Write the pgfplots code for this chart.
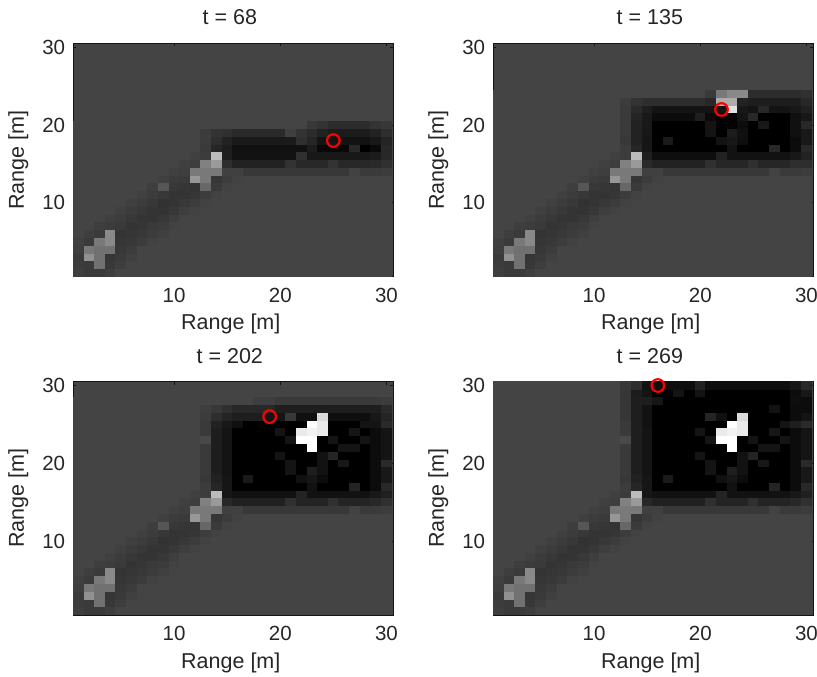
\documentclass[border=0pt]{standalone}
\usepackage{pgfplots}
\usepackage{pgfplotstable}
\usepackage{fontspec}
\setmainfont{Liberation Sans}
\pgfplotsset{compat=1.18}
\pgfdeclareplotmark{cell}{\pgfpathrectangle{\pgfpoint{-5.6pt}{-4.05pt}}{\pgfpoint{11.2pt}{8.1pt}}\pgfusepathqfill}
\definecolor{bgcell}{RGB}{68,68,68}
\definecolor{axln}{RGB}{20,20,20}
\pgfplotstableread[header=false]{
1 62 58 58 62 68 68 68 68 68 68 68 68 68 68 68 68 68 68 68 68 68 68 68 68 68 68 68 68 68 68
2 60 58 112 56 62 68 68 68 68 68 68 68 68 68 68 68 68 68 68 68 68 68 68 68 68 68 68 68 68 68
3 58 144 112 54 58 64 68 68 68 68 68 68 68 68 68 68 68 68 68 68 68 68 68 68 68 68 68 68 68 68
4 62 120 112 112 56 60 68 68 68 68 68 68 68 68 68 68 68 68 68 68 68 68 68 68 68 68 68 68 68 68
5 64 58 120 136 54 56 60 66 68 68 68 68 68 68 68 68 68 68 68 68 68 68 68 68 68 68 68 68 68 68
6 68 62 58 136 52 54 56 60 64 68 68 68 68 68 68 68 68 68 68 68 68 68 68 68 68 68 68 68 68 68
7 68 68 62 60 58 52 54 58 60 66 68 68 68 68 68 68 68 68 68 68 68 68 68 68 68 68 68 68 68 68
8 68 68 68 64 60 56 52 52 56 62 68 68 68 68 68 68 68 68 68 68 68 68 68 68 68 68 68 68 68 68
9 68 68 68 68 64 60 56 52 52 56 62 66 68 68 68 68 68 68 68 68 68 68 68 68 68 68 68 68 68 68
10 68 68 68 68 68 64 60 56 50 52 56 60 66 68 68 68 68 68 68 68 68 68 68 68 68 68 68 68 68 68
11 68 68 68 68 68 68 64 60 56 52 52 54 60 66 68 68 68 68 68 68 68 68 68 68 68 68 68 68 68 68
12 68 68 68 68 68 68 68 62 85 56 54 52 102 58 66 68 68 68 68 68 68 68 68 68 68 68 68 68 68 68
13 68 68 68 68 68 68 68 68 64 60 58 150 120 54 60 66 68 68 68 68 68 68 68 68 68 68 68 68 68 68
14 68 68 68 68 68 68 68 68 68 64 62 120 120 120 64 64 56 56 56 56 56 56 56 56 56 56 66 58 58 60
}\tabLow
\pgfplotstableread[header=false]{
15 68 68 68 68 68 68 68 68 68 68 64 62 128 153 46 34 34 34 34 34 51 40 40 40 51 40 40 40 42 48
16 68 68 68 68 68 68 68 68 68 68 68 64 60 187 30 18 18 18 18 18 18 48 24 24 24 24 24 24 28 40
17 68 68 68 68 68 68 68 68 68 68 68 68 58 37 30 17 17 17 17 17 17 17 28 8 8 8 40 0 10 40
18 68 68 68 68 68 68 68 68 68 68 68 68 60 46 34 26 26 26 26 26 26 48 38 20 20 18 18 18 24 36
19 68 68 68 68 68 68 68 68 68 68 68 68 60 51 48 42 42 42 42 42 64 51 44 34 28 28 28 28 34 46
20 68 68 68 68 68 68 68 68 68 68 68 68 68 68 68 68 68 68 68 68 68 68 56 51 44 44 44 44 51 56
}\tabA
\pgfplotstableread[header=false]{
15 68 68 68 68 68 68 68 68 68 68 64 62 128 153 42 34 34 34 34 34 48 38 38 38 48 38 38 38 46 46
16 68 68 68 68 68 68 68 68 68 68 68 64 60 187 30 14 14 14 14 14 14 34 18 18 18 18 18 18 24 34
17 68 68 68 68 68 68 68 68 68 68 68 68 60 38 22 0 0 0 0 0 0 0 18 0 0 0 40 0 12 40
18 68 68 68 68 68 68 68 68 68 68 68 68 56 34 22 0 26 0 0 0 0 18 24 14 0 0 0 0 12 24
19 68 68 68 68 68 68 68 68 68 68 68 68 58 34 24 0 0 0 0 0 20 0 28 16 0 0 0 0 16 24
20 68 68 68 68 68 68 68 68 68 68 68 68 58 34 24 0 0 0 0 0 20 2 2 12 0 24 0 0 16 40
21 68 68 68 68 68 68 68 68 68 68 68 68 58 36 24 12 12 12 12 30 10 0 0 20 40 0 0 0 16 24
22 68 68 68 68 68 68 68 68 68 68 68 68 58 42 30 20 20 20 20 20 20 20 224 24 20 40 20 20 24 32
23 68 68 68 68 68 68 68 68 68 68 68 68 60 51 46 46 46 46 46 46 40 170 170 34 30 30 30 30 30 40
24 68 68 68 68 68 68 68 68 68 68 68 68 68 68 68 68 68 68 68 68 58 119 136 136 44 44 44 44 44 48
}\tabB
\pgfplotstableread[header=false]{
15 68 68 68 68 68 68 68 68 68 68 64 62 128 153 40 32 32 32 32 32 48 36 36 36 48 36 36 36 40 48
16 68 68 68 68 68 68 68 68 68 68 68 64 60 187 22 18 18 18 18 18 18 36 18 18 18 18 18 18 24 32
17 68 68 68 68 68 68 68 68 68 68 68 68 60 38 22 0 0 0 0 0 0 0 18 0 0 0 36 0 12 40
18 68 68 68 68 68 68 68 68 68 68 68 68 56 34 22 0 26 0 0 0 0 16 22 12 0 0 0 0 12 24
19 68 68 68 68 68 68 68 68 68 68 68 68 58 30 20 0 0 0 0 0 20 0 30 18 0 0 0 0 12 24
20 68 68 68 68 68 68 68 68 68 68 68 68 58 30 20 0 0 0 0 0 20 0 0 18 0 24 0 0 12 42
21 68 68 68 68 68 68 68 68 68 68 68 68 58 30 20 0 0 0 0 20 0 0 0 18 36 0 0 0 12 20
22 68 68 68 68 68 68 68 68 68 68 68 68 58 30 20 0 0 0 0 0 0 0 255 0 0 20 20 0 12 20
23 68 68 68 68 68 68 68 68 68 68 68 68 72 30 20 0 0 0 0 0 20 255 255 0 20 0 0 20 12 20
24 68 68 68 68 68 68 68 68 68 68 68 68 58 30 20 0 0 0 0 20 0 232 240 232 0 0 22 0 12 20
}\tabCD
\pgfplotstableread[header=false]{
25 68 68 68 68 68 68 68 68 68 68 68 68 58 34 24 16 0 0 0 0 0 0 255 232 0 0 0 20 20 42
26 68 68 68 68 68 68 68 68 68 68 68 68 60 46 36 30 30 30 20 20 56 16 16 216 14 14 14 14 24 36
27 68 68 68 68 68 68 68 68 68 68 68 68 62 56 48 40 40 40 40 30 30 30 30 30 30 30 30 30 30 42
28 68 68 68 68 68 68 68 68 68 68 68 68 68 68 68 68 68 62 62 58 58 58 58 58 58 58 58 58 58 60
}\tabC
\pgfplotstableread[header=false]{
25 68 68 68 68 68 68 68 68 68 68 68 68 58 30 18 0 0 0 0 0 0 0 255 232 0 0 0 20 30 42
26 68 68 68 68 68 68 68 68 68 68 68 68 54 30 18 0 0 0 0 0 36 16 0 216 0 0 0 0 12 20
27 68 68 68 68 68 68 68 68 68 68 68 68 54 30 18 0 0 0 0 0 0 0 0 0 0 0 18 0 12 12
28 68 68 68 68 68 68 68 68 68 68 68 68 54 30 30 22 0 0 0 0 0 0 0 0 0 0 0 0 14 12
29 68 68 68 68 68 68 68 68 68 68 68 68 54 28 20 0 0 20 0 20 0 0 0 0 0 0 0 0 12 24
30 68 68 68 68 68 68 68 68 68 68 68 68 56 46 18 14 14 14 14 34 14 14 14 14 14 14 14 14 22 40
}\tabD
\newcommand{\cells}[1]{%
\pgfplotsinvokeforeach{1,...,30}{%
\addplot[scatter,only marks,mark=cell,forget plot,
  scatter/use mapped color={draw=none,fill=mapped color},
  point meta=explicit] table[x expr=##1,y index=0,meta index=##1] {#1};}}
\pgfplotsset{panel/.style={
  scale only axis,width=320pt,height=233.4pt,anchor=south west,
  xmin=0.5,xmax=30.65,ymin=0.5,ymax=30.5,
  xtick={10,20,30},ytick={10,20,30},
  tick align=inside,major tick length=3pt,
  axis line style={axln,line width=0.9pt},
  tick style={axln,line width=0.7pt},
  axis background/.style={fill=bgcell},
  colormap={g}{rgb255(0)=(0,0,0) rgb255(255)=(255,255,255)},
  point meta min=0,point meta max=255,
  clip=false,
  /pgf/number format/assume math mode=true,
  ticklabel style={font=\fontsize{20.5}{20.5}\selectfont,text=black!85,inner sep=0pt},
  xticklabel style={yshift=-11pt},
  yticklabel style={xshift=-8pt},
  xlabel={Range [m]},ylabel={Range [m]},
  label style={font=\fontsize{21.5}{21.5}\selectfont,text=black!85},
  xlabel style={at={(axis description cs:0.5,0)},anchor=center,yshift=-47.5pt,xshift=-2.5pt},
  ylabel style={at={(axis description cs:0,0.5)},anchor=center,yshift=55pt},
  title style={font=\fontsize{21.5}{21.5}\selectfont,text=black!85,at={(axis description cs:0.5,1)},anchor=center,xshift=-3.5pt},
}}
\newcommand{\ringmark}[2]{\addplot[only marks,mark=o,mark size=6.3pt,mark options={red,line width=2.2pt,fill=none},forget plot] coordinates {(#1,#2)};}
\begin{document}
\begin{tikzpicture}
\path[use as bounding box] (0pt,0pt) rectangle (817pt,677pt);
\begin{axis}[panel,at={(73.3pt,400.3pt)},title={t = 68},title style={yshift=20pt}]
\cells{\tabLow}\cells{\tabA}
\ringmark{25}{18}
\end{axis}
\begin{axis}[panel,at={(493.3pt,400.3pt)},title={t = 135},title style={yshift=20pt}]
\cells{\tabLow}\cells{\tabB}
\ringmark{22}{22}
\end{axis}
\begin{axis}[panel,at={(73.3pt,62pt)},title={t = 202},title style={yshift=19pt}]
\cells{\tabLow}\cells{\tabCD}\cells{\tabC}
\ringmark{19}{26}
\end{axis}
\begin{axis}[panel,at={(493.3pt,62pt)},title={t = 269},title style={yshift=19pt}]
\cells{\tabLow}\cells{\tabCD}\cells{\tabD}
\ringmark{16}{30}
\end{axis}
\end{tikzpicture}
\end{document}
